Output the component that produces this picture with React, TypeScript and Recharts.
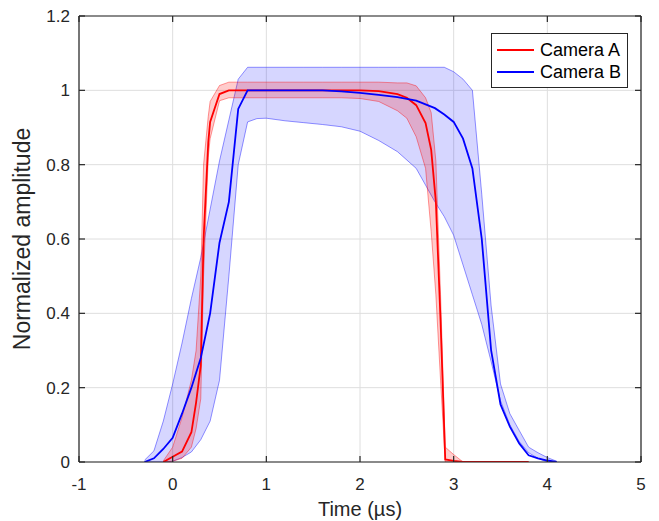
import React from "react";
import {
  ComposedChart,
  Line,
  Area,
  XAxis,
  YAxis,
  CartesianGrid,
  Legend,
  Label,
} from "recharts";

const FONT = "'Liberation Sans', Arial, Helvetica, sans-serif";
const AXIS = "#262626";

const xTicks = [-1, 0, 1, 2, 3, 4, 5];
const yTicks = [0, 0.2, 0.4, 0.6, 0.8, 1, 1.2];
const xDomain = [-1, 5];
const yDomain = [0, 1.2];

const seriesNames = ["Camera A", "Camera B"];
const seriesColors = ["#ff0000", "#0000ff"];

// Camera A: mean and min/max envelope
const timeA = [-0.1, 0, 0.1, 0.2, 0.25, 0.3, 0.33, 0.38, 0.4, 0.5, 0.6, 0.8, 1.0, 1.2, 1.4, 1.6, 1.8, 2.0, 2.2, 2.4, 2.5, 2.6, 2.7, 2.76, 2.81, 2.86, 2.91, 3.0, 3.1, 3.2, 3.4, 3.6, 3.8];
const meanA = [0, 0.014, 0.028, 0.08, 0.16, 0.26, 0.6, 0.86, 0.915, 0.99, 1.0, 1.0, 1.0, 1.0, 1.0, 1.0, 1.0, 1.0, 0.998, 0.99, 0.98, 0.96, 0.912, 0.84, 0.7, 0.38, 0.007, 0.003, 0, 0, 0, 0, 0];
const highA = [0.003, 0.04, 0.12, 0.22, 0.3, 0.5, 0.8, 0.93, 0.97, 1.013, 1.022, 1.022, 1.022, 1.022, 1.022, 1.022, 1.022, 1.022, 1.022, 1.02, 1.02, 1.012, 0.98, 0.94, 0.81, 0.45, 0.04, 0.02, 0, 0, 0, 0, 0];
const lowA = [0, 0.002, 0.01, 0.04, 0.09, 0.17, 0.5, 0.82, 0.87, 0.972, 0.98, 0.98, 0.98, 0.98, 0.98, 0.98, 0.98, 0.978, 0.97, 0.945, 0.925, 0.875, 0.79, 0.62, 0.45, 0.22, 0, 0, 0, 0, 0, 0, 0];

// Camera B: mean and min/max envelope
const timeB = [-0.3, -0.2, -0.1, 0, 0.1, 0.2, 0.3, 0.4, 0.5, 0.6, 0.7, 0.8, 0.9, 1.0, 1.2, 1.4, 1.6, 1.8, 2.0, 2.2, 2.4, 2.6, 2.8, 2.9, 3.0, 3.1, 3.2, 3.3, 3.4, 3.5, 3.6, 3.7, 3.8, 3.9, 4.0, 4.1];
const meanB = [0, 0.01, 0.035, 0.065, 0.13, 0.2, 0.28, 0.4, 0.59, 0.7, 0.95, 1.0, 1.0, 1.0, 1.0, 1.0, 1.0, 0.997, 0.993, 0.988, 0.982, 0.972, 0.952, 0.935, 0.915, 0.87, 0.79, 0.6, 0.3, 0.155, 0.095, 0.05, 0.018, 0.01, 0.004, 0];
const highB = [0.005, 0.03, 0.11, 0.21, 0.32, 0.44, 0.55, 0.68, 0.81, 0.92, 1.03, 1.062, 1.062, 1.062, 1.062, 1.062, 1.062, 1.062, 1.062, 1.062, 1.062, 1.062, 1.062, 1.062, 1.05, 1.03, 1.0, 0.72, 0.42, 0.21, 0.13, 0.085, 0.04, 0.025, 0.012, 0.002];
const lowB = [0, 0, 0, 0.002, 0.012, 0.027, 0.06, 0.11, 0.22, 0.5, 0.8, 0.915, 0.924, 0.925, 0.918, 0.913, 0.908, 0.902, 0.89, 0.865, 0.835, 0.79, 0.7, 0.66, 0.61, 0.53, 0.45, 0.37, 0.27, 0.165, 0.1, 0.055, 0.025, 0.01, 0, 0];

const dataA = timeA.map((t, i) => ({ t, mean: meanA[i], band: [lowA[i], highA[i]] }));
const dataB = timeB.map((t, i) => ({ t, mean: meanB[i], band: [lowB[i], highB[i]] }));

const axisLine = { stroke: AXIS, strokeWidth: 1.2 };
const TICK = 6;

const BottomTick = ({ x, y, payload }: any) => (
  <text x={x} y={y + 28} textAnchor="middle" fontSize={17} fontFamily={FONT} fill={AXIS}>
    {payload.value}
  </text>
);

const LeftTick = ({ x, y, payload }: any) => (
  <text x={x - 9} y={y + 6} textAnchor="end" fontSize={17} fontFamily={FONT} fill={AXIS}>
    {payload.value}
  </text>
);

const NoLabel = () => null;

// x-axis title plus inward tick marks on bottom and top edges of the box
const XTitle = ({ viewBox }: any) => {
  const { x, y, width } = viewBox;
  const top = 16;
  const px = (t: number) => x + ((t - xDomain[0]) / (xDomain[1] - xDomain[0])) * width;
  return (
    <g>
      {xTicks.map((t) => (
        <g key={t}>
          <rect x={px(t) - 0.6} y={y - TICK} width={1.2} height={TICK} fill={AXIS} />
          <rect x={px(t) - 0.6} y={top} width={1.2} height={TICK} fill={AXIS} />
        </g>
      ))}
      <text x={x + width / 2} y={516} textAnchor="middle" fontSize={20} fontFamily={FONT} fill={AXIS}>
        Time (µs)
      </text>
    </g>
  );
};

// y-axis title plus inward tick marks on left and right edges of the box
const YTitle = ({ viewBox }: any) => {
  const { x, y, width, height } = viewBox;
  const left = x + width;
  const right = 641;
  const py = (v: number) => y + height - ((v - yDomain[0]) / (yDomain[1] - yDomain[0])) * height;
  const cy = y + height / 2;
  return (
    <g>
      {yTicks.map((v) => (
        <g key={v}>
          <rect x={left} y={py(v) - 0.6} width={TICK} height={1.2} fill={AXIS} />
          <rect x={right - TICK} y={py(v) - 0.6} width={TICK} height={1.2} fill={AXIS} />
        </g>
      ))}
      <text
        x={30}
        y={cy}
        transform={`rotate(-90 30 ${cy})`}
        textAnchor="middle"
        fontSize={23}
        fontFamily={FONT}
        fill={AXIS}
      >
        Normalized amplitude
      </text>
    </g>
  );
};

const LegendBox = () => (
  <div
    style={{
      border: `1px solid ${AXIS}`,
      background: "#fff",
      width: 137,
      height: 55,
      boxSizing: "border-box",
      fontFamily: FONT,
      fontSize: 18,
      color: "#000",
      paddingTop: 5,
    }}
  >
    {seriesNames.map((name, i) => (
      <div key={name} style={{ display: "flex", alignItems: "center", height: 22 }}>
        <div style={{ width: 37, height: 2, background: seriesColors[i], marginLeft: 5, marginRight: 6 }} />
        <span>{name}</span>
      </div>
    ))}
  </div>
);

export default function App() {
  return (
    <div style={{ position: "absolute", left: 0, top: 0, background: "#fff" }}>
      <ComposedChart width={659} height={521} margin={{ top: 15, right: 17, bottom: 0, left: 0 }}>
        <CartesianGrid stroke="#dedede" />
        <XAxis
          dataKey="t"
          type="number"
          domain={xDomain}
          ticks={xTicks}
          allowDataOverflow
          height={59}
          tickSize={0}
          tickMargin={0}
          tickLine={false}
          axisLine={axisLine}
          tick={<BottomTick />}
        >
          <Label content={XTitle} />
        </XAxis>
        <XAxis
          xAxisId="top"
          orientation="top"
          dataKey="t"
          type="number"
          domain={xDomain}
          ticks={xTicks}
          allowDataOverflow
          height={1}
          tickSize={0}
          tickLine={false}
          axisLine={axisLine}
          tick={<NoLabel />}
        />
        <YAxis
          type="number"
          domain={yDomain}
          ticks={yTicks}
          allowDataOverflow
          width={79}
          tickSize={0}
          tickMargin={0}
          tickLine={false}
          axisLine={axisLine}
          tick={<LeftTick />}
        >
          <Label content={YTitle} />
        </YAxis>
        <YAxis
          yAxisId="right"
          orientation="right"
          type="number"
          domain={yDomain}
          ticks={yTicks}
          allowDataOverflow
          width={1}
          tickSize={0}
          tickLine={false}
          axisLine={axisLine}
          tick={<NoLabel />}
        />
        <Area
          data={dataB}
          dataKey="band"
          type="linear"
          fill="#0000ff"
          fillOpacity={0.16}
          stroke="#0000ff"
          strokeOpacity={0.42}
          strokeWidth={1}
          isAnimationActive={false}
          legendType="none"
        />
        <Area
          data={dataA}
          dataKey="band"
          xAxisId="top"
          yAxisId="right"
          type="linear"
          fill="#ff0000"
          fillOpacity={0.2}
          stroke="#ff0000"
          strokeOpacity={0.4}
          strokeWidth={1}
          isAnimationActive={false}
          legendType="none"
        />
        <Line
          data={dataA}
          dataKey="mean"
          xAxisId="top"
          yAxisId="right"
          name={seriesNames[0]}
          type="linear"
          stroke={seriesColors[0]}
          strokeWidth={1.8}
          dot={false}
          isAnimationActive={false}
        />
        <Line
          data={dataB}
          dataKey="mean"
          name={seriesNames[1]}
          type="linear"
          stroke={seriesColors[1]}
          strokeWidth={1.8}
          dot={false}
          isAnimationActive={false}
        />
        <Legend
          layout="vertical"
          align="center"
          verticalAlign="middle"
          content={<LegendBox />}
          wrapperStyle={{ left: 491, top: 33, width: 137 }}
        />
      </ComposedChart>
    </div>
  );
}
